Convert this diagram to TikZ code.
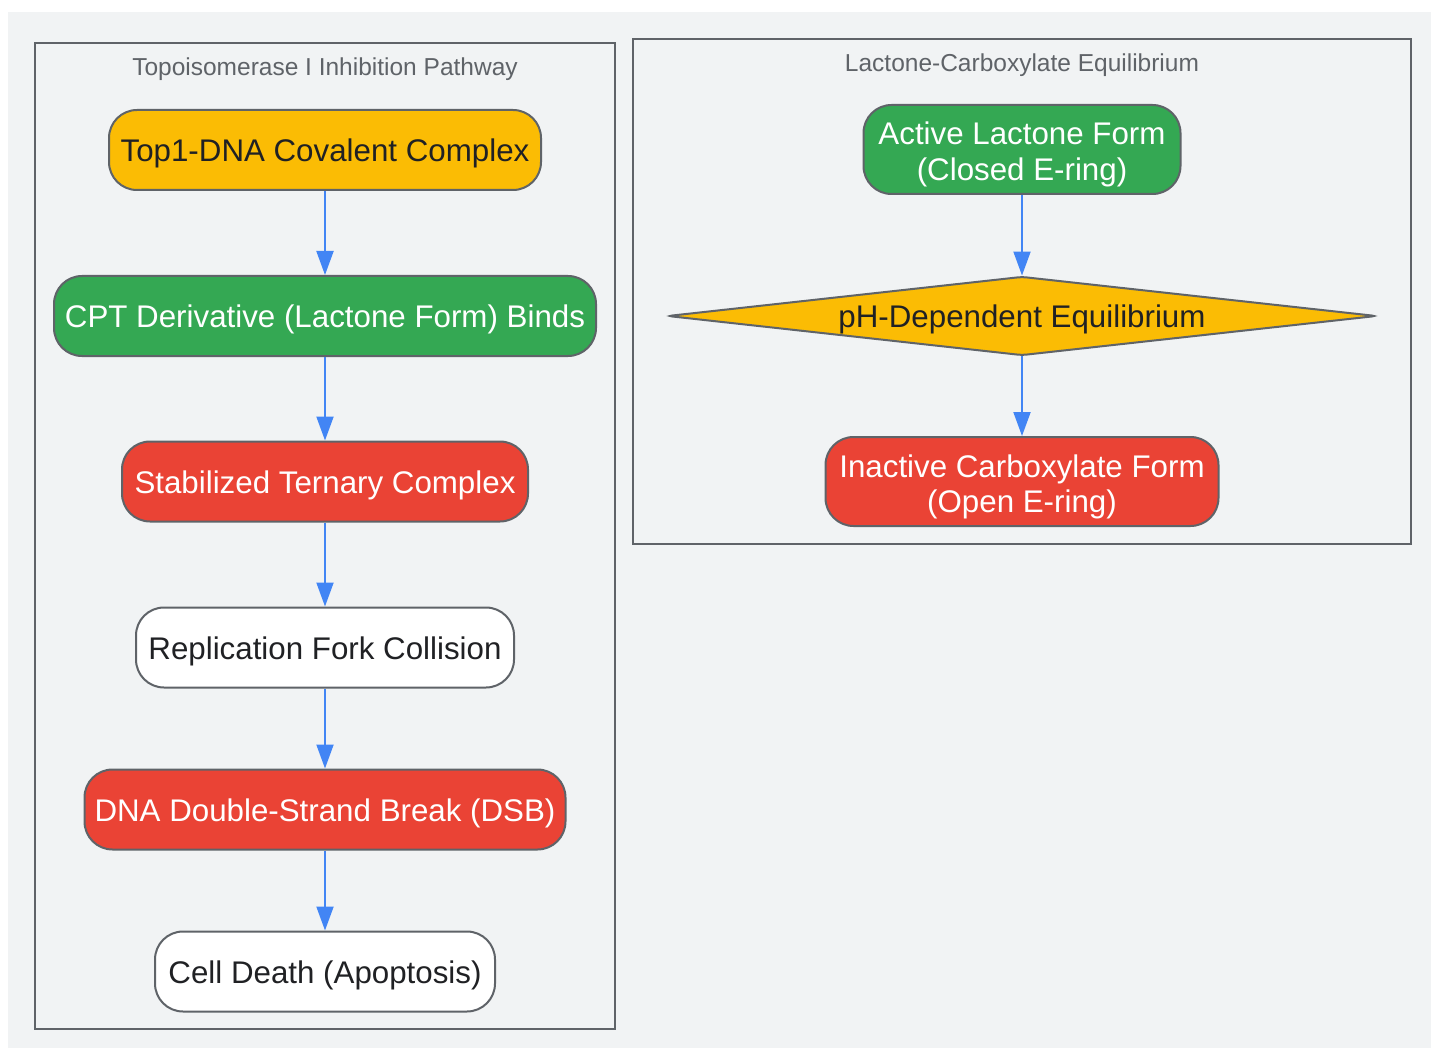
\documentclass[tikz,border=0pt]{standalone}
\usepackage{fontspec}
\setmainfont{Liberation Sans}
\usetikzlibrary{shapes.geometric,arrows.meta}

\definecolor{bgray}{HTML}{F1F3F4}
\definecolor{edgegray}{HTML}{5F6368}
\definecolor{gyellow}{HTML}{FBBC04}
\definecolor{ggreen}{HTML}{34A853}
\definecolor{gred}{HTML}{EA4335}
\definecolor{gblue}{HTML}{4285F4}
\definecolor{ink}{HTML}{202124}

\def\lx{325}
\def\rx{1022}

\begin{document}
\begin{tikzpicture}[x=1pt, y=1pt]
			\tikzset{
				box/.style={draw=edgegray, line width=2pt, rounded corners=28pt, align=center, inner sep=0pt,
					minimum height=80pt, text height=23pt, text depth=0pt, font=\fontsize{31.3}{35.5}\selectfont},
				twoline/.style={minimum height=89pt, text height=62pt, text depth=0pt},
				yellowbox/.style={box, fill=gyellow, text=ink},
				greenbox/.style={box, fill=ggreen, text=white},
				redbox/.style={box, fill=gred, text=white},
				whitebox/.style={box, fill=white, text=ink},
				cluster/.style={draw=edgegray, line width=2pt},
				title/.style={text=edgegray, text height=17.5pt, text depth=0pt, inner sep=0pt, font=\fontsize{24.5}{28}\selectfont},
				edge/.style={->, draw=gblue, line width=2pt, >={Triangle[length=24pt, width=17pt]}}
			}
			\useasboundingbox (0,0) rectangle (1431,-1048);
			\fill[white] (0,0) rectangle (1431,-1048);
			\fill[bgray] (8,-12) rectangle (1431,-1048);
			% clusters
			\draw[cluster] (35,-43) rectangle (615,-1029);
			\node[title](ltitle) at (\lx,-67){Topoisomerase I Inhibition Pathway};
			\draw[cluster] (633,-39) rectangle (1411,-544);
			\node[title](rtitle) at (\rx,-63){Lactone-Carboxylate Equilibrium};
			% pathway
			\node[yellowbox, minimum width=432pt](top1) at (\lx,-150){Top1-DNA Covalent Complex};
			\node[greenbox, minimum width=542pt](cpt) at (\lx,-316){CPT Derivative (Lactone Form) Binds};
			\node[redbox, minimum width=406pt](tern) at (\lx,-481.5){Stabilized Ternary Complex};
			\node[whitebox, minimum width=378pt](fork) at (\lx,-647.5){Replication Fork Collision};
			\node[redbox, minimum width=481pt](dsb) at (\lx,-809.5){DNA Double-Strand Break (DSB)};
			\node[whitebox, minimum width=340pt](death) at (\lx,-971.5){Cell Death (Apoptosis)};
			% equilibrium
			\node[greenbox, twoline, minimum width=317pt](lact) at (\rx,-149.5){Active Lactone Form\\(Closed E-ring)};
			\node[diamond, aspect=9, draw=edgegray, line width=2pt, fill=gyellow, text=ink, inner sep=0pt,
				minimum width=709pt, minimum height=79pt, rounded corners=4pt, text height=23pt, text depth=0pt,
				font=\fontsize{31.3}{35.5}\selectfont](eq) at (\rx,-316){pH-Dependent Equilibrium};
			\node[redbox, twoline, minimum width=393pt](carb) at (\rx,-481.5){Inactive Carboxylate Form\\(Open E-ring)};
			\draw[edge](top1)--(cpt);
			\draw[edge](cpt)--(tern);
			\draw[edge](tern)--(fork);
			\draw[edge](fork)--(dsb);
			\draw[edge](dsb)--(death);
			\draw[edge](lact)--(eq);
			\draw[edge](eq)--(carb);
		\end{tikzpicture}
\end{document}
